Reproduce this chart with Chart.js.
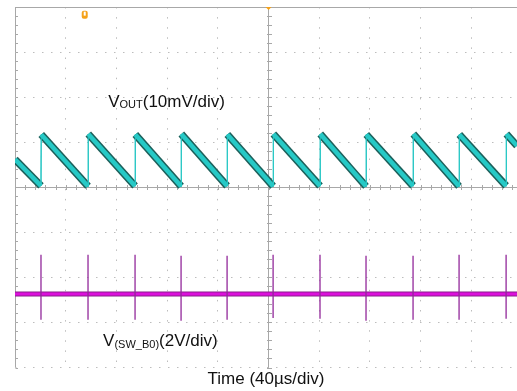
<!DOCTYPE html>
<html>
<head>
<meta charset="utf-8">
<script src="https://cdn.jsdelivr.net/npm/chart.js@4.4.0/dist/chart.umd.min.js"></script>
<style>
  html, body { margin: 0; padding: 0; background: #fff; }
  #wrap { width: 517px; height: 391px; }
</style>
</head>
<body>
<div id="wrap"><canvas id="scope"></canvas></div>
<script>
// time in µs (40 µs/div), vertical in scope divisions
const gridTimes = [0, 40, 80, 120, 160, 200, 240, 280, 320, 360];
const gridDivs = [-4, -3, -2, -1, 0, 1, 2, 3, 4];

// switching events (µs) - Vout ramps up here, SW node spikes here
const jumpTimes = [20.5, 57.6, 94.7, 131, 167.3, 203.6, 240.6, 276.9, 314, 350.3, 387.4];
const voutLow  = [0.03, 0.02, 0.03, 0.02, 0.03, 0.02, 0.03, 0.02, 0.03, 0.02, 0.03];
const voutHigh = [1.17, 1.18, 1.17, 1.18, 1.17, 1.18, 1.18, 1.17, 1.18, 1.17, 1.18];
const voutStart = 0.62;
const voutEnd = 0.92;

const swLevel = -2.37;
const swSpikeTop = [-1.5, -1.5, -1.5, -1.52, -1.52, -1.5, -1.5, -1.52, -1.52, -1.5, -1.5];
const swSpikeBottom = [-2.94, -2.94, -2.94, -2.96, -2.94, -2.9, -2.92, -2.96, -2.94, -2.94, -2.92];

const tMax = 396;

const voutPts = [{ x: 0, y: voutStart }];
jumpTimes.forEach((t, i) => {
  voutPts.push({ x: t, y: voutLow[i] });
  voutPts.push({ x: t + 0.2, y: voutHigh[i] });
});
voutPts.push({ x: tMax, y: voutEnd });

const spikePts = [];
jumpTimes.forEach((t, i) => {
  spikePts.push({ x: t, y: swSpikeTop[i] });
  spikePts.push({ x: t, y: swSpikeBottom[i] });
  spikePts.push({ x: t, y: null });
});

const swPts = [{ x: 0, y: swLevel }, { x: tMax, y: swLevel }];

const isEdge = ctx => ctx.p1.parsed.y > ctx.p0.parsed.y + 0.3;
const solidAt = vals => c => vals.includes(c.tick && c.tick.value);

const scopeDecor = {
  id: 'scopeDecor',
  beforeDatasetsDraw(chart) {
    const { ctx, scales: { x, y } } = chart;
    ctx.save();
    ctx.strokeStyle = '#a8a8a8';
    ctx.lineWidth = 1;
    const cx = Math.round(x.getPixelForValue(200)) + 0.5;
    const cy = Math.round(y.getPixelForValue(0)) + 0.5;
    const lx = Math.round(x.getPixelForValue(0)) + 0.5;
    ctx.beginPath();
    for (let t = 0; t <= tMax; t += 8) {
      const px = Math.round(x.getPixelForValue(t)) + 0.5;
      ctx.moveTo(px, cy - 2.5); ctx.lineTo(px, cy + 2.5);
    }
    for (let d = -4; d <= 4; d += 0.2) {
      const py = Math.round(y.getPixelForValue(d)) + 0.5;
      ctx.moveTo(cx - 2.5, py); ctx.lineTo(cx + 2.5, py);
      ctx.moveTo(lx, py); ctx.lineTo(lx + 2.5, py);
    }
    ctx.stroke();
    ctx.restore();
  },
  afterDatasetsDraw(chart) {
    const { ctx, scales: { x, y } } = chart;
    ctx.save();
    // trigger marker and channel marker
    ctx.fillStyle = '#f5a21a';
    const tx = x.getPixelForValue(200), ty = y.getPixelForValue(4);
    ctx.beginPath();
    ctx.moveTo(tx - 3, ty); ctx.lineTo(tx + 3, ty); ctx.lineTo(tx, ty + 3); ctx.closePath();
    ctx.fill();
    const mx = x.getPixelForValue(55), my = y.getPixelForValue(3.83);
    ctx.beginPath();
    ctx.roundRect(mx - 3, my - 4, 6, 8, 2);
    ctx.fill();
    ctx.fillStyle = '#fff';
    ctx.fillRect(mx - 1, my - 3, 2, 4);

    ctx.fillStyle = '#111';
    ctx.textBaseline = 'alphabetic';
    ctx.font = '17px "Liberation Sans", Arial, sans-serif';
    let px = x.getPixelForValue(73.5), py = y.getPixelForValue(1.78);
    ctx.fillText('V', px, py);
    px += ctx.measureText('V').width;
    ctx.font = '11px "Liberation Sans", Arial, sans-serif';
    ctx.fillText('OUT', px, py + 1);
    px += ctx.measureText('OUT').width;
    ctx.font = '17px "Liberation Sans", Arial, sans-serif';
    ctx.fillText('(10mV/div)', px, py);

    px = x.getPixelForValue(69.5); py = y.getPixelForValue(-3.52);
    ctx.fillText('V', px, py);
    px += ctx.measureText('V').width;
    ctx.font = '11px "Liberation Sans", Arial, sans-serif';
    ctx.fillText('(SW_B0)', px, py + 2);
    px += ctx.measureText('(SW_B0)').width;
    ctx.font = '17px "Liberation Sans", Arial, sans-serif';
    ctx.fillText('(2V/div)', px, py);
    ctx.restore();
  }
};

new Chart(document.getElementById('scope'), {
  type: 'line',
  data: {
    datasets: [
      {
        data: swPts, borderColor: '#8a1f8a', borderWidth: 5,
        pointRadius: 0, order: 6
      },
      {
        data: swPts, borderColor: '#dc10dc', borderWidth: 3,
        pointRadius: 0, order: 5
      },
      {
        data: spikePts, borderColor: '#92289a', borderWidth: 1.3,
        pointRadius: 0, spanGaps: false, order: 4
      },
      {
        data: voutPts, borderColor: '#1c5f5a', borderWidth: 7.5,
        pointRadius: 0, order: 3,
        segment: {
          borderWidth: c => isEdge(c) ? 1.2 : 7.5,
          borderColor: c => isEdge(c) ? '#3cc4c4' : undefined
        }
      },
      {
        data: voutPts, borderColor: '#26c9c6', borderWidth: 4.5,
        pointRadius: 0, order: 2,
        segment: { borderWidth: c => isEdge(c) ? 1 : 4.5 }
      }
    ]
  },
  options: {
    responsive: true,
    maintainAspectRatio: false,
    animation: false,
    events: [],
    layout: { padding: { left: 15, top: 7, right: 0, bottom: 0 } },
    plugins: { legend: { display: false }, tooltip: { enabled: false } },
    scales: {
      x: {
        type: 'linear', min: 0, max: tMax,
        afterBuildTicks: s => { s.ticks = gridTimes.map(v => ({ value: v })); },
        ticks: { display: false },
        border: {
          display: false,
          dash: c => solidAt([0, 200])(c) ? [] : [1.5, 8.6]
        },
        grid: {
          drawTicks: false,
          color: c => solidAt([0, 200])(c) ? '#a8a8a8' : '#bdbdbd'
        },
        title: {
          display: true, text: 'Time (40µs/div)', color: '#111',
          font: { family: '"Liberation Sans", Arial, sans-serif', size: 17 },
          padding: { top: 1.5, bottom: 1.6 }
        }
      },
      y: {
        type: 'linear', min: -4, max: 4,
        afterBuildTicks: s => { s.ticks = gridDivs.map(v => ({ value: v })); },
        ticks: { display: false },
        border: {
          display: false,
          dash: c => solidAt([0, 4])(c) ? [] : [1.5, 7.5]
        },
        grid: {
          drawTicks: false,
          color: c => solidAt([0, 4])(c) ? '#a8a8a8' : '#bdbdbd'
        }
      }
    }
  },
  plugins: [scopeDecor]
});
</script>
</body>
</html>
